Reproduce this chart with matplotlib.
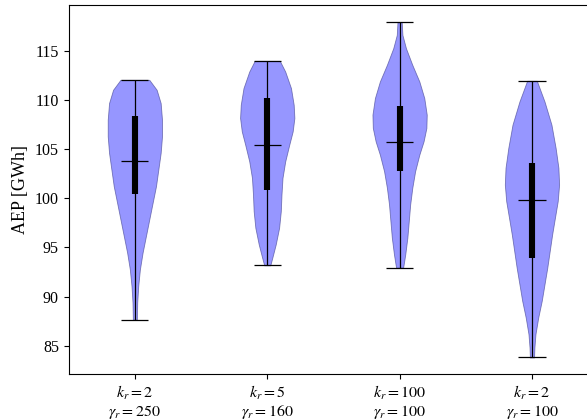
import numpy as np
import matplotlib
matplotlib.use("Agg")
import matplotlib.pyplot as plt

plt.rcParams['font.family'] = 'serif'
plt.rcParams['font.serif'] = ['Liberation Serif', 'DejaVu Serif']
plt.rcParams['mathtext.fontset'] = 'stix'

# tick labels of the four cases
labels = ['$k_r=2$\n$\\gamma_r=250$', '$k_r=5$\n$\\gamma_r=160$',
          '$k_r=100$\n$\\gamma_r=100$', '$k_r=2$\n$\\gamma_r=100$']

# summary values (GWh)
mins = [87.67, 93.19, 92.95, 83.83]
maxs = [112.03, 113.96, 117.88, 111.93]
medians = [103.82, 105.38, 105.68, 99.80]
q1 = [100.41, 100.82, 102.74, 93.97]
q3 = [108.38, 110.14, 109.40, 103.59]

# violin outlines: AEP level and relative density at that level
y1 = [87.67, 89.41, 91.09, 92.78, 94.47, 96.16, 97.85, 99.54, 101.22, 102.91,
      104.60, 106.29, 107.98, 109.67, 111.02, 112.03]
d1 = [6, 7, 10, 15, 23, 33, 43, 53, 63, 70, 77, 81, 81, 77, 65, 43]

y2 = [93.19, 93.97, 95.31, 97.00, 98.69, 100.38, 102.07, 103.75, 105.45,
      106.79, 108.15, 109.50, 111.19, 112.87, 113.96]
d2 = [9, 15, 25, 35, 40, 42, 45, 53, 65, 75, 80, 78, 70, 53, 37]

y3 = [92.95, 94.30, 95.99, 97.67, 99.37, 101.06, 102.74, 104.43, 105.78,
      107.14, 108.49, 110.18, 111.86, 113.55, 115.24, 116.59, 117.88]
d3 = [10, 16, 22, 26, 30, 36, 44, 56, 68, 76, 77, 70, 56, 36, 18, 8, 6]

y4 = [83.83, 84.84, 86.20, 87.89, 89.57, 91.26, 92.95, 94.64, 96.33, 98.02,
      99.70, 101.39, 103.09, 105.11, 107.47, 109.83, 111.93]
d4 = [6, 7, 10, 18, 28, 36, 44, 51, 58, 66, 74, 78, 76, 68, 56, 36, 14]

outlines = [(y1, d1), (y2, d2), (y3, d3), (y4, d4)]

vpstats = []
for i, (yy, dd) in enumerate(outlines):
    vpstats.append({
        'coords': np.array(yy),
        'vals': np.array(dd, dtype=float),
        'mean': medians[i],
        'median': medians[i],
        'min': mins[i],
        'max': maxs[i],
        'quantiles': [],
    })

positions = np.arange(1, len(labels) + 1)

fig = plt.figure(figsize=(5.87, 4.2), dpi=100)
ax = fig.add_axes([0.117, 0.109, 0.902, 0.878])

parts = ax.violin(vpstats, positions=positions, widths=0.41,
                  showmeans=False, showextrema=True, showmedians=True)
for body in parts['bodies']:
    body.set_alpha(None)
    body.set_facecolor((0, 0, 1, 0.41))
    body.set_edgecolor((0.3, 0.3, 0.6, 0.7))
    body.set_linewidth(0.6)
for key in ['cbars', 'cmins', 'cmaxes', 'cmedians']:
    parts[key].set_color('black')
    parts[key].set_linewidth(0.9)

# interquartile range as a thick bar
ax.vlines(positions, q1, q3, color='black', linestyle='-', lw=4.4)

ax.set_xlim(0.5, 4.5)
ax.set_xticks(positions)
ax.set_xticklabels(labels, fontsize=11.5, linespacing=1.1)
ax.set_yticks([85, 90, 95, 100, 105, 110, 115])
ax.tick_params(axis='y', labelsize=11.5)
ax.set_ylabel('AEP [GWh]', fontsize=13)

fig.savefig('out.png', dpi=100)
